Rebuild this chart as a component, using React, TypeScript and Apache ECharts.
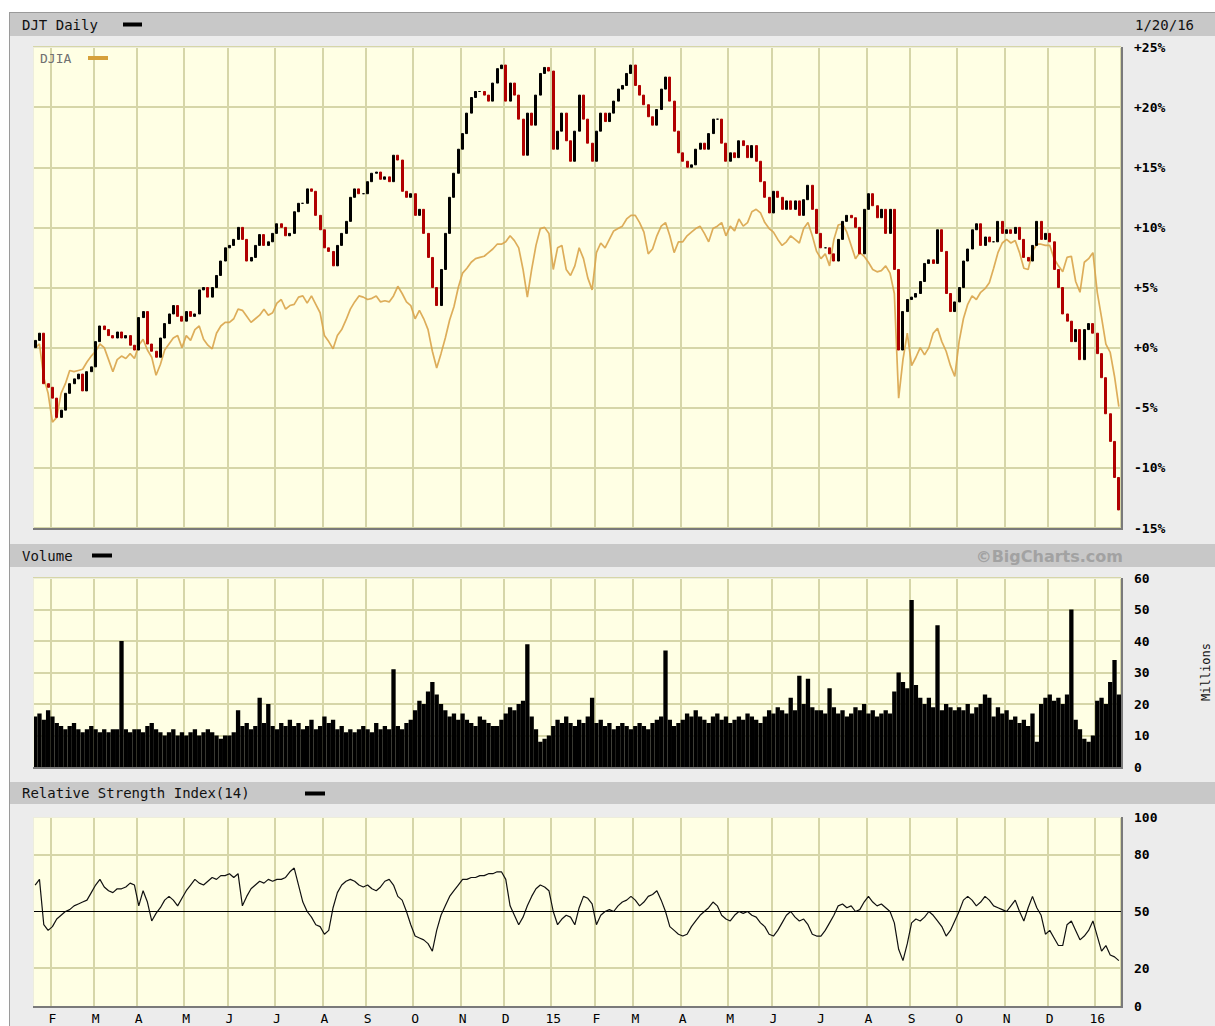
import React, { useEffect, useRef } from "react";
import * as echarts from "echarts";

// ---------- calendar ----------
const START = "2014-01-21";
const END = "2016-01-20";
const HOLIDAYS = [
  "2014-02-17", "2014-04-18", "2014-05-26", "2014-07-04", "2014-09-01", "2014-11-27", "2014-12-25",
  "2015-01-01", "2015-01-19", "2015-02-16", "2015-04-03", "2015-05-25", "2015-07-03", "2015-09-07",
  "2015-11-26", "2015-12-25", "2016-01-01", "2016-01-18",
];
const MONTH_LETTERS = ["J", "F", "M", "A", "M", "J", "J", "A", "S", "O", "N", "D"];

// ---------- data (one value per two trading days) ----------
// DJT daily, % change from first close
const djtClose = [
  0.6, 1.2, -3.0, -3.3,
  -4.2, -5.8, -5.2, -3.8, -3.0, -2.6, -2.2, -3.6, -2.0, -1.6,
  0.5, 1.8, 1.5, 1.0, 0.8, 1.3, 0.8, 1.0, 0.2, -0.2,
  2.5, 3.0, 0.3, -0.3, -0.8, 0.8, 2.0, 2.8, 3.5, 2.6, 2.2,
  3.0, 2.6, 2.8, 4.8, 5.0, 4.2, 5.0, 6.0, 7.2, 8.3,
  8.5, 9.0, 10.0, 9.0, 7.2, 7.5, 8.5, 9.4, 8.5, 8.8, 9.5,
  10.3, 10.0, 9.3, 9.5, 11.3, 12.0, 12.0, 13.2, 13.0, 11.0, 9.8,
  8.3, 8.0, 6.8, 8.5, 9.5, 10.5, 12.5, 13.2, 12.8, 12.8,
  13.8, 14.5, 14.6, 14.0, 14.2, 13.8, 16.0, 15.6, 13.0, 12.5, 12.8,
  11.0, 11.5, 9.5, 7.5, 5.0, 3.5, 6.5, 9.5, 12.5, 14.5, 16.5,
  17.8, 19.5, 20.8, 21.3, 21.3, 21.0, 20.5, 22.0, 23.2, 23.5,
  20.5, 22.0, 21.0, 19.0, 16.0, 19.5, 18.5, 21.0, 22.8, 23.3, 23.0,
  16.5, 18.0, 19.5, 17.2, 15.5, 18.0, 21.0, 19.0, 17.0, 15.5,
  18.0, 19.5, 18.8, 19.5, 20.5, 21.5, 21.8, 22.8, 23.5,
  21.8, 21.0, 20.2, 19.2, 18.5, 19.8, 21.5, 22.5, 20.5, 18.0, 16.2,
  15.5, 15.0, 15.2, 16.5, 17.0, 16.5, 17.8, 19.0, 19.0, 17.0, 15.5,
  16.2, 15.8, 17.2, 16.8, 15.8, 16.8, 15.5, 13.8, 12.5, 11.2,
  13.0, 12.5, 11.5, 12.2, 11.5, 12.2, 11.0, 12.3, 13.5, 11.5, 9.5,
  8.3, 8.3, 7.8, 7.2, 9.0, 10.5, 11.0, 10.8, 10.0, 7.8, 11.5,
  12.8, 11.8, 10.8, 11.5, 9.5, 11.5, 6.5, -0.2, 3.0, 4.0,
  4.2, 4.5, 5.5, 7.0, 7.3, 7.0, 9.8, 8.0, 4.5, 3.0, 3.8,
  5.0, 7.2, 8.2, 9.8, 10.3, 8.5, 9.2, 8.8, 8.8, 10.5, 9.5,
  9.8, 9.5, 10.0, 9.0, 7.5, 7.2, 8.5, 10.5, 9.0, 9.5,
  8.8, 6.5, 5.0, 2.8, 2.2, 0.5, 1.5, -1.0, 1.5, 2.0, 1.2,
  -0.5, -2.5, -5.5, -7.8, -10.8, -13.5,
];

// DJIA, % change from first close
const djiaPct = [
  0.0, 0.3, -2.5, -3.8,
  -6.2, -5.8, -3.8, -3.0, -1.9, -2.0, -1.9, -1.8, -1.2, -0.7,
  -0.3, 0.3, 0.0, -1.0, -2.0, -1.0, -0.7, -0.9, -0.5, -0.9,
  0.2, 0.7, -0.2, -0.8, -2.3, -1.4, -0.2, 0.3, 0.8, 1.0, 0.0,
  1.0, 0.6, 1.5, 1.8, 0.7, 0.2, -0.1, 1.2, 1.8, 2.1,
  2.1, 2.4, 3.2, 3.1, 2.6, 2.1, 2.4, 2.7, 3.2, 2.7, 2.9,
  3.7, 4.0, 3.2, 3.5, 3.6, 4.2, 4.3, 3.7, 4.3, 3.6, 2.9,
  1.0, 0.5, -0.1, 1.0, 1.5, 2.3, 3.2, 3.8, 4.3, 4.2,
  4.0, 4.1, 4.3, 3.8, 3.9, 3.8, 4.3, 5.1, 4.5, 3.8, 3.5,
  2.4, 3.1, 2.4, 1.5, -0.3, -1.7, -0.5, 0.8, 2.3, 3.4, 5.0,
  6.2, 6.6, 7.1, 7.4, 7.5, 7.6, 7.9, 8.2, 8.6, 8.6,
  8.8, 9.3, 8.9, 8.3, 6.5, 4.2, 6.5, 8.5, 9.9, 10.0, 9.5,
  6.5, 8.3, 8.5, 6.5, 6.0, 6.8, 8.3, 7.4, 5.8, 4.8,
  7.9, 8.7, 8.3, 9.0, 9.7, 9.9, 10.1, 10.7, 11.0,
  11.0, 10.4, 9.6, 7.8, 8.2, 9.3, 10.1, 10.4, 9.3, 7.9, 8.8,
  8.8, 9.3, 9.6, 9.9, 10.1, 9.5, 8.8, 9.9, 10.1, 10.4, 9.3,
  10.1, 9.7, 10.7, 10.1, 10.4, 11.3, 11.5, 11.2, 10.4, 9.9,
  9.6, 9.0, 8.5, 8.8, 9.3, 9.0, 8.7, 9.9, 10.4, 9.3, 8.0,
  7.4, 7.8, 6.8, 9.0, 10.2, 10.3, 9.6, 8.5, 7.4, 7.9, 7.6,
  7.1, 6.5, 6.3, 6.4, 6.8, 6.2, 4.5, -4.2, -1.0, 1.2,
  -1.5, -0.8, 0.0, -0.6, 0.0, 1.2, 1.6, 0.5, -0.3, -1.5, -2.4,
  0.5, 2.4, 3.6, 4.3, 4.0, 4.6, 4.9, 5.4, 6.6, 7.9, 8.7,
  9.0, 8.7, 8.9, 7.9, 6.6, 6.5, 8.0, 8.6, 8.6, 8.5,
  8.5, 7.4, 6.8, 6.3, 7.5, 7.6, 5.5, 4.6, 7.1, 7.4, 7.9,
  4.6, 2.5, 0.3, -0.4, -2.4, -4.9,
];

// Volume, millions
const volumeM = [
  16, 17, 15, 18,
  16, 14, 13, 12, 13, 14, 12, 11, 12, 13,
  12, 11, 12, 11, 12, 12, 40, 12, 11, 12,
  12, 11, 13, 14, 12, 11, 10, 11, 12, 10, 11,
  10, 11, 12, 10, 11, 12, 11, 10, 9, 10,
  10, 11, 18, 13, 14, 12, 13, 22, 14, 20, 13,
  12, 14, 13, 15, 13, 14, 12, 13, 15, 12, 13,
  16, 14, 15, 12, 13, 11, 12, 11, 12, 13,
  12, 11, 14, 12, 13, 12, 31, 13, 12, 14, 15,
  18, 21, 20, 24, 27, 23, 20, 18, 16, 17, 15,
  17, 15, 14, 13, 16, 15, 14, 13, 13, 15,
  17, 19, 18, 20, 21, 39, 16, 12, 8, 9, 10,
  13, 15, 14, 16, 14, 13, 15, 14, 16, 22,
  14, 15, 13, 14, 12, 13, 14, 13, 12,
  13, 14, 13, 12, 14, 15, 16, 37, 15, 13, 14,
  15, 17, 16, 18, 16, 15, 14, 16, 17, 15, 16,
  14, 15, 16, 15, 17, 16, 15, 14, 16, 18,
  17, 19, 18, 17, 22, 18, 29, 20, 28, 19, 18,
  18, 17, 25, 19, 17, 18, 16, 17, 19, 18, 20,
  17, 18, 16, 17, 18, 17, 24, 30, 27, 25,
  53, 26, 22, 20, 22, 19, 45, 18, 20, 19, 18,
  19, 18, 20, 17, 19, 20, 23, 22, 16, 19, 17,
  18, 15, 16, 14, 15, 13, 17, 8, 20, 22,
  23, 21, 22, 20, 23, 50, 15, 12, 9, 8, 10,
  21, 22, 20, 27, 34, 23,
];

// RSI(14)
const rsi14 = [
  64, 67, 43, 40,
  42, 46, 48, 50, 51, 53, 54, 55, 56, 60,
  64, 67, 63, 61, 60, 62, 62, 63, 65, 64,
  53, 61, 55, 45, 49, 52, 56, 58, 56, 53, 57,
  61, 64, 67, 65, 64, 66, 68, 67, 69, 69,
  70, 68, 70, 53, 58, 62, 64, 66, 65, 67, 66,
  67, 67, 68, 71, 73, 64, 55, 50, 47, 43, 42,
  38, 40, 52, 60, 64, 66, 67, 66, 64, 63,
  64, 62, 61, 63, 66, 67, 64, 58, 56, 50, 43,
  37, 36, 35, 33, 29, 40, 48, 53, 58, 61, 64,
  67, 67, 68, 68, 69, 69, 70, 70, 71, 71,
  67, 53, 48, 43, 47, 53, 58, 62, 64, 63, 61,
  50, 43, 46, 48, 47, 43, 52, 58, 57, 54,
  43, 48, 50, 51, 50, 53, 55, 56, 58,
  56, 53, 55, 58, 59, 61, 56, 50, 42, 40, 38,
  37, 38, 42, 45, 48, 50, 52, 55, 53, 48, 46,
  45, 48, 50, 49, 50, 48, 47, 44, 42, 38,
  37, 40, 44, 48, 50, 47, 45, 46, 43, 38, 37,
  37, 40, 44, 48, 53, 54, 52, 53, 50, 51, 55,
  58, 55, 53, 54, 52, 50, 44, 30, 24, 33,
  44, 46, 45, 47, 50, 48, 45, 42, 37, 40, 45,
  50, 56, 58, 56, 53, 55, 58, 56, 53, 52, 51,
  50, 53, 56, 50, 45, 52, 58, 52, 48, 38,
  40, 36, 32, 32, 43, 45, 40, 35, 37, 40, 45,
  37, 29, 32, 27, 26, 24,
];

// tick labels
const priceTicks = [-15, -10, -5, 0, 5, 10, 15, 20, 25];
const priceTickLabels = ["-15%", "-10%", "-5%", "+0%", "+5%", "+10%", "+15%", "+20%", "+25%"];
const volumeTicks = [0, 10, 20, 30, 40, 50, 60];
const rsiTicks = [0, 20, 50, 80, 100];

// ---------- styles ----------
const FONT = "'DejaVu Sans Mono', monospace";
const GRID_LINE = "#d6d6a8";
const PLOT_BG = "#ffffe4";
const PANEL_BG = "#ececec";
const HEADER_BG = "#c8c8c8";
const UP = "#000000";
const DOWN = "#b00000";
const DJIA_COLOR = "#d9a44a";

const LEFT = 33;
const WIDTH = 1088;
const PLOTS = [
  { top: 47, height: 481 },
  { top: 578, height: 189 },
  { top: 817, height: 189 },
];

function tradingDays(): string[] {
  const out: string[] = [];
  const d = new Date(START + "T00:00:00Z");
  const end = new Date(END + "T00:00:00Z");
  while (d.getTime() <= end.getTime()) {
    const wd = d.getUTCDay();
    const s = d.toISOString().slice(0, 10);
    if (wd !== 0 && wd !== 6 && HOLIDAYS.indexOf(s) < 0) out.push(s);
    d.setUTCDate(d.getUTCDate() + 1);
  }
  return out;
}

function buildOption() {
  const days = tradingDays();
  const N = djtClose.length;
  const cats: string[] = [];
  for (let i = 0; i < N; i++) cats.push(days[Math.min(2 * i + 1, days.length - 1)]);
  const monthStart = new Set<number>();
  for (let i = 1; i < N; i++) if (cats[i].slice(5, 7) !== cats[i - 1].slice(5, 7)) monthStart.add(i);
  const isMonthStart = (i: number) => monthStart.has(i);
  const monthLabel = (v: string) => {
    const m = +v.slice(5, 7);
    return m === 1 ? v.slice(2, 4) : MONTH_LETTERS[m - 1];
  };

  const candles = djtClose.map((c, i) => {
    const o = i === 0 ? 0 : djtClose[i - 1];
    return [o, c, Math.min(o, c), Math.max(o, c)];
  });

  const xAxis = PLOTS.map((_, gi) => ({
    type: "category",
    gridIndex: gi,
    data: cats,
    boundaryGap: true,
    axisLine: { show: false },
    axisTick: { show: false },
    splitLine: { show: true, interval: isMonthStart, lineStyle: { color: GRID_LINE, width: 2 } },
    axisLabel:
      gi === 2
        ? { show: true, interval: isMonthStart, formatter: monthLabel, margin: 6, fontFamily: FONT, fontSize: 13, color: "#000" }
        : { show: false },
  }));

  const yLabel = { fontFamily: FONT, fontSize: 13, fontWeight: "bold", color: "#000", margin: 13 };
  const yAxis = [
    {
      type: "value", gridIndex: 0, position: "right", min: -15, max: 25, interval: 5,
      axisLine: { show: false }, axisTick: { show: false },
      splitLine: { show: true, lineStyle: { color: GRID_LINE, width: 2 } },
      axisLabel: { ...yLabel, formatter: (v: number) => { const k = priceTicks.indexOf(v); return k >= 0 ? priceTickLabels[k] : ""; } },
    },
    {
      type: "value", gridIndex: 1, position: "right", min: 0, max: 60, interval: 10,
      axisLine: { show: false }, axisTick: { show: false },
      splitLine: { show: true, lineStyle: { color: GRID_LINE, width: 2 } },
      axisLabel: { ...yLabel, formatter: (v: number) => (volumeTicks.indexOf(v) >= 0 ? String(v) : "") },
    },
    {
      type: "value", gridIndex: 2, position: "right", min: 0, max: 100, interval: 10,
      axisLine: { show: false }, axisTick: { show: false },
      splitLine: { show: false },
      axisLabel: { ...yLabel, formatter: (v: number) => (rsiTicks.indexOf(v) >= 0 ? String(v) : "") },
    },
  ];

  const hdrFont = { fontFamily: FONT, fontSize: 14, fill: "#111" };
  const graphic: any[] = [
    { type: "rect", z: -20, shape: { x: 9, y: 12, width: 1206, height: 1014 }, style: { fill: PANEL_BG } },
    { type: "line", z: -19, shape: { x1: 9.5, y1: 12, x2: 9.5, y2: 1026 }, style: { stroke: "#9a9a9a", lineWidth: 1 } },
    { type: "line", z: -19, shape: { x1: 9, y1: 12.5, x2: 1215, y2: 12.5 }, style: { stroke: "#9a9a9a", lineWidth: 1 } },
    // headers
    { type: "rect", z: -18, shape: { x: 10, y: 13, width: 1205, height: 23 }, style: { fill: HEADER_BG } },
    { type: "rect", z: -18, shape: { x: 10, y: 544, width: 1205, height: 23 }, style: { fill: HEADER_BG } },
    { type: "rect", z: -18, shape: { x: 10, y: 782, width: 1205, height: 22 }, style: { fill: HEADER_BG } },
    { type: "text", x: 22, y: 25, style: { ...hdrFont, text: "DJT Daily", verticalAlign: "middle" } },
    { type: "rect", shape: { x: 123, y: 22.5, width: 19, height: 4 }, style: { fill: "#000" } },
    { type: "text", x: 1194, y: 25, style: { ...hdrFont, text: "1/20/16", align: "right", verticalAlign: "middle" } },
    { type: "text", x: 22, y: 556, style: { ...hdrFont, text: "Volume", verticalAlign: "middle" } },
    { type: "rect", shape: { x: 92, y: 553.5, width: 20, height: 4 }, style: { fill: "#000" } },
    {
      type: "text", x: 1123, y: 556,
      style: { text: "©BigCharts.com", fontFamily: "'DejaVu Sans', sans-serif", fontWeight: "bold", fontSize: 16, fill: "#a2a2a2", align: "right", verticalAlign: "middle" },
    },
    { type: "text", x: 22, y: 793, style: { ...hdrFont, text: "Relative Strength Index(14)", verticalAlign: "middle" } },
    { type: "rect", shape: { x: 305, y: 791.5, width: 20, height: 4 }, style: { fill: "#000" } },
    // DJIA legend inside price plot
    { type: "text", x: 40, y: 58, z: 60, style: { text: "DJIA", fontFamily: FONT, fontSize: 13, fill: "#707070", verticalAlign: "middle" } },
    { type: "rect", z: 60, shape: { x: 88, y: 56, width: 20, height: 4 }, style: { fill: "#d6a03a" } },
    // Millions
    {
      type: "text", x: 1206, y: 672, rotation: Math.PI / 2,
      style: { text: "Millions", fontFamily: FONT, fontSize: 12, fill: "#111", align: "center", verticalAlign: "middle" },
    },
  ];
  PLOTS.forEach((p) => {
    const b = p.top + p.height;
    graphic.push(
      { type: "rect", z: -15, shape: { x: LEFT, y: p.top, width: WIDTH, height: p.height }, style: { fill: PLOT_BG } },
      { type: "line", z: 50, shape: { x1: LEFT, y1: p.top + 0.5, x2: LEFT + WIDTH, y2: p.top + 0.5 }, style: { stroke: "#ededdc", lineWidth: 1 } },
      { type: "line", z: 50, shape: { x1: LEFT + 0.5, y1: p.top, x2: LEFT + 0.5, y2: b }, style: { stroke: "#ededdc", lineWidth: 1 } },
      { type: "line", z: 50, shape: { x1: LEFT, y1: b + 1, x2: LEFT + WIDTH + 2, y2: b + 1 }, style: { stroke: "#7a7a7a", lineWidth: 2 } },
      { type: "line", z: 50, shape: { x1: LEFT + WIDTH + 1, y1: p.top, x2: LEFT + WIDTH + 1, y2: b + 2 }, style: { stroke: "#7a7a7a", lineWidth: 2 } },
    );
  });

  return {
    animation: false,
    backgroundColor: "#ffffff",
    grid: PLOTS.map((p) => ({ left: LEFT, top: p.top, width: WIDTH, height: p.height, containLabel: false })),
    xAxis,
    yAxis,
    graphic,
    series: [
      {
        name: "DJIA", type: "line", xAxisIndex: 0, yAxisIndex: 0, data: djiaPct, showSymbol: false, z: 2,
        lineStyle: { color: DJIA_COLOR, width: 1.7, opacity: 0.9 }, silent: true,
      },
      {
        name: "DJT", type: "candlestick", xAxisIndex: 0, yAxisIndex: 0, data: candles, barWidth: 2.5, z: 3, silent: true,
        itemStyle: { color: UP, color0: DOWN, borderColor: UP, borderColor0: DOWN, borderWidth: 1 },
      },
      {
        name: "Volume", type: "bar", xAxisIndex: 1, yAxisIndex: 1, data: volumeM, barCategoryGap: "0%", silent: true,
        itemStyle: { color: "#000", borderColor: "#000", borderWidth: 2 },
      },
      {
        name: "RSI", type: "line", xAxisIndex: 2, yAxisIndex: 2, data: rsi14, showSymbol: false, silent: true,
        lineStyle: { color: "#111", width: 1.2 },
        markLine: {
          silent: true, symbol: "none", label: { show: false },
          data: [
            { yAxis: 20, lineStyle: { color: GRID_LINE, width: 2, type: "solid" } },
            { yAxis: 80, lineStyle: { color: GRID_LINE, width: 2, type: "solid" } },
            { yAxis: 50, lineStyle: { color: "#000", width: 1, type: "solid" } },
          ],
        },
      },
    ],
  };
}

export default function App() {
  const ref = useRef<HTMLDivElement>(null);
  useEffect(() => {
    document.body.style.margin = "0";
    document.body.style.overflow = "hidden";
    const chart = echarts.init(ref.current!, undefined, { renderer: "svg" });
    chart.setOption(buildOption() as any);
    return () => chart.dispose();
  }, []);
  return <div ref={ref} style={{ width: 1215, height: 1026 }} />;
}
